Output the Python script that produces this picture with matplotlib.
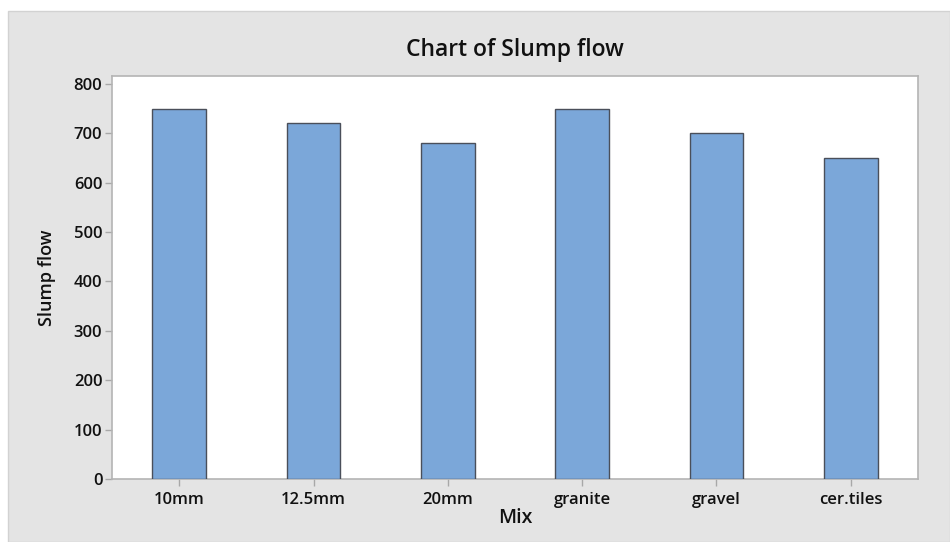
import matplotlib
matplotlib.use("Agg")
import matplotlib.pyplot as plt
from matplotlib.patches import Rectangle

plt.rcParams['font.family'] = ['Open Sans', 'DejaVu Sans']

# data
mixes = ["10mm", "12.5mm", "20mm", "granite", "gravel", "cer.tiles"]
slump_flow = [750, 720, 680, 750, 700, 650]
yticks = [0, 100, 200, 300, 400, 500, 600, 700, 800]

W, H = 950, 542
fig = plt.figure(figsize=(W / 100, H / 100), dpi=100, facecolor="white")

# gray panel behind everything (leaves a thin white strip top/left)
bg = Rectangle((8 / W, 0), 1 - 8 / W, 1 - 11 / H, transform=fig.transFigure,
               facecolor="#e4e4e4", edgecolor="#d2d2d2", linewidth=1.0, zorder=-10)
fig.patches.append(bg)

ax = fig.add_axes([112 / W, 1 - 479 / H, (918 - 112) / W, (479 - 76) / H])
ax.set_facecolor("white")

x = range(len(mixes))
ax.bar(x, slump_flow, width=0.4, color="#7ba7d9", edgecolor="#4a4f5a", linewidth=1.0, zorder=3)

ax.set_xlim(-0.5, len(mixes) - 0.5)
ax.set_ylim(0, 816)
ax.set_yticks(yticks)
ax.set_xticks(list(x))
ax.set_xticklabels(mixes)

for s in ax.spines.values():
    s.set_color("#b4b4b4")
    s.set_linewidth(1.2)

ax.tick_params(axis="both", colors="#a8a8a8", length=5, width=1, labelcolor="#111111", labelsize=12)
ax.tick_params(axis="y", pad=2)
ax.tick_params(axis="x", pad=4)
for lab in ax.get_xticklabels() + ax.get_yticklabels():
    lab.set_fontweight("semibold")

fig.text(0.5 * (112 + 918) / W, 1 - 50 / H, "Chart of Slump flow", ha="center", va="center",
         fontsize=16.5, fontweight="semibold", color="#111111")
fig.text(47 / W, 1 - (76 + 479) / 2 / H, "Slump flow", ha="center", va="center",
         rotation=90, fontsize=13, fontweight="semibold", color="#111111")
fig.text(0.5 * (112 + 918) / W, 1 - 518 / H, "Mix", ha="center", va="center",
         fontsize=14, fontweight="semibold", color="#111111")

fig.savefig("out.png", dpi=100, facecolor=fig.get_facecolor())
